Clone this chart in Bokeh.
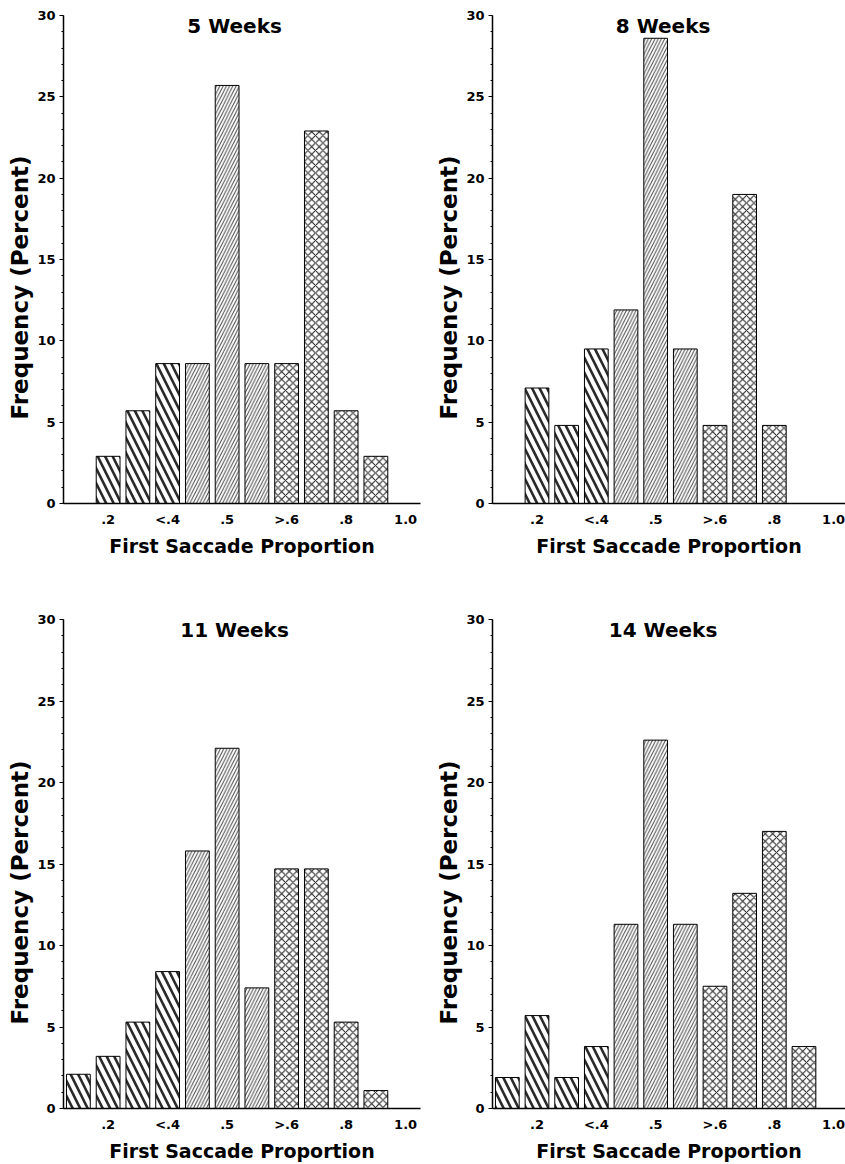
from bokeh.plotting import figure
from bokeh.models import Range1d, FixedTicker, SingleIntervalTicker, Label, Title
from bokeh.layouts import gridplot
from bokeh.embed import file_html
from bokeh.resources import INLINE

# ---------------- data ----------------
bin_slots = list(range(11))                     # histogram bins (slot index)
bin_group = ["low", "low", "low", "low",
             "mid", "mid", "mid",
             "high", "high", "high", "high"]
tick_slots = [1, 3, 5, 7, 9, 11]
tick_labels = [".2", "<.4", ".5", ">.6", ".8", "1.0"]

titles = ["5 Weeks", "8 Weeks", "11 Weeks", "14 Weeks"]
weeks_5 = [None, 2.9, 5.7, 8.6, 8.6, 25.7, 8.6, 8.6, 22.9, 5.7, 2.9]
weeks_8 = [None, 7.1, 4.8, 9.5, 11.9, 28.6, 9.5, 4.8, 19.0, 4.8, None]
weeks_11 = [2.1, 3.2, 5.3, 8.4, 15.8, 22.1, 7.4, 14.7, 14.7, 5.3, 1.1]
weeks_14 = [1.9, 5.7, 1.9, 3.8, 11.3, 22.6, 11.3, 7.5, 13.2, 17.0, 3.8]

x_title = "First Saccade Proportion"
y_title = "Frequency (Percent)"

# ---------------- style ----------------
FONT = "DejaVu Sans"
hatch_styles = {
    "low": dict(hatch_pattern="\\", hatch_scale=15, hatch_weight=2.6, hatch_color="#2a2a2a"),
    "mid": dict(hatch_pattern="/", hatch_scale=6.5, hatch_weight=1, hatch_color="#4a4a4a"),
    "high": dict(hatch_pattern="x", hatch_scale=7.5, hatch_weight=1, hatch_color="#1a1a1a"),
}


def make_panel(title, values, left_b, top_b, frame_w, x_end, right_b, frame_h, bottom_b):
    p = figure(width=left_b + frame_w + right_b, height=top_b + frame_h + bottom_b,
               x_range=Range1d(-0.5, x_end), y_range=Range1d(0, 30),
               output_backend="svg", toolbar_location=None, title=None,
               min_border_left=left_b, min_border_right=right_b,
               min_border_top=top_b, min_border_bottom=bottom_b)
    p.xgrid.visible = False
    p.ygrid.visible = False
    p.outline_line_color = None
    p.background_fill_color = "white"
    p.border_fill_color = "white"

    xa = p.xaxis[0]
    xa.ticker = FixedTicker(ticks=tick_slots)
    xa.major_label_overrides = {t: l for t, l in zip(tick_slots, tick_labels)}
    xa.major_tick_out = 0
    xa.major_tick_in = 0
    xa.minor_tick_out = 0
    xa.minor_tick_in = 0
    xa.axis_line_width = 1.5
    xa.axis_line_color = "black"
    xa.major_label_standoff = 8
    xa.major_label_text_font = FONT
    xa.major_label_text_font_style = "bold"
    xa.major_label_text_font_size = "13px"
    xa.major_label_text_color = "black"
    xa.axis_label = x_title
    xa.axis_label_standoff = 5
    xa.axis_label_text_font = FONT
    xa.axis_label_text_font_style = "bold"
    xa.axis_label_text_font_size = "19px"
    xa.axis_label_text_color = "black"

    ya = p.yaxis[0]
    ya.ticker = SingleIntervalTicker(interval=5, num_minor_ticks=5)
    ya.major_tick_out = 4
    ya.major_tick_in = 0
    ya.minor_tick_out = 2
    ya.minor_tick_in = 0
    ya.axis_line_width = 1.5
    ya.axis_line_color = "black"
    ya.major_tick_line_color = "black"
    ya.minor_tick_line_color = "black"
    ya.major_label_standoff = 4
    ya.major_label_text_font = FONT
    ya.major_label_text_font_style = "bold"
    ya.major_label_text_font_size = "13px"
    ya.major_label_text_color = "black"

    p.add_layout(Title(text=y_title, align="left", offset=84, standoff=4,
                       text_font=FONT, text_font_style="bold",
                       text_font_size="23px", text_color="black"), "left")

    for g, st in hatch_styles.items():
        xs = [s for s, v, gg in zip(bin_slots, values, bin_group) if v is not None and gg == g]
        tops = [v for v, gg in zip(values, bin_group) if v is not None and gg == g]
        if xs:
            p.vbar(x=xs, top=tops, bottom=0, width=0.8, fill_color="white",
                   line_color="black", line_width=1, **st)

    p.add_layout(Label(x=5.25, y=29.35, text=title, text_align="center",
                       text_baseline="middle", text_font=FONT, text_font_style="bold",
                       text_font_size="20px", text_color="black"))
    return p


p1 = make_panel(titles[0], weeks_5, 63, 15, 357, 11.5, 11, 488, 109)
p2 = make_panel(titles[1], weeks_8, 60, 15, 354, 11.4, 0, 488, 109)
p3 = make_panel(titles[2], weeks_11, 63, 7, 357, 11.5, 11, 489, 56)
p4 = make_panel(titles[3], weeks_14, 60, 7, 354, 11.4, 0, 489, 56)

grid = gridplot([[p1, p2], [p3, p4]], toolbar_location=None)

open("out.html", "w").write(file_html(grid, INLINE))
